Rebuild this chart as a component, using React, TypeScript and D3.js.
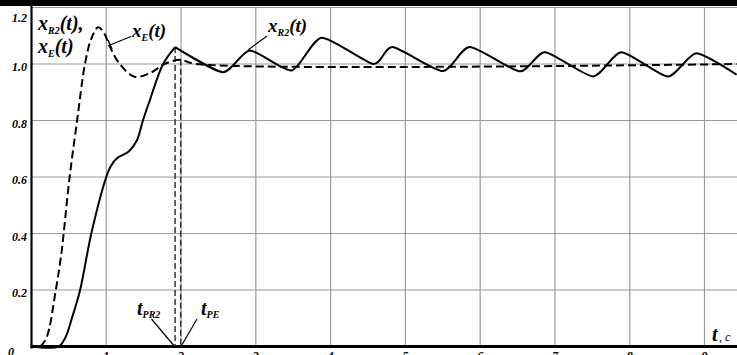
import React from "react";
import * as d3 from "d3";

const W = 737;
const H = 355;

const xTicks = [0, 1, 2, 3, 4, 5, 6, 7, 8, 9];
const yTicks = [0, 0.2, 0.4, 0.6, 0.8, 1.0, 1.2];
const yTickLabels = ["0", "0.2", "0.4", "0.6", "0.8", "1.0", "1.2"];

// x_R2(t) — solid: rising part
const riseT = [0, 0.36, 0.45, 0.54, 0.65, 0.8, 1.0, 1.06, 1.15, 1.3, 1.41, 1.49, 1.58, 1.76, 1.92];
const riseV = [0, 0, 0.03, 0.1, 0.2, 0.4, 0.6, 0.638, 0.668, 0.69, 0.73, 0.8, 0.87, 1.0, 1.06];
// x_R2(t) — solid: oscillation extremes (starting at first peak)
const oscT = [1.92, 2.56, 2.92, 3.48, 3.88, 4.57, 4.83, 5.5, 5.86, 6.53, 6.87, 7.51, 7.89, 8.51, 8.89, 9.43];
const oscV = [1.06, 0.971, 1.048, 0.977, 1.093, 1.0, 1.06, 0.975, 1.06, 0.974, 1.042, 0.956, 1.042, 0.956, 1.038, 0.962];

// x_E(t) — dashed
const dashT = [0.12, 0.2, 0.325, 0.4, 0.43, 0.51, 0.61, 0.715, 0.8, 0.89, 0.97, 1.05, 1.18, 1.38, 1.6, 1.78, 1.985, 2.2, 9.43];
const dashV = [0, 0.03, 0.2, 0.33, 0.4, 0.6, 0.8, 1.0, 1.09, 1.13, 1.11, 1.06, 1.0, 0.955, 0.97, 1.0, 1.015, 1.0, 1.0];

const tPR2 = 1.92;
const tPE = 1.995;

export default function App() {
  const x = d3.scaleLinear().domain([0, 9]).range([31.5, 704.5]);
  const y = d3.scaleLinear().domain([0, 1.2]).range([346.5, 7.5]);

  const rise = riseT.map((t, i) => [t, riseV[i]] as [number, number]);
  const osc = oscT.map((t, i) => [t, oscV[i]] as [number, number]);
  const dashed = dashT.map((t, i) => [t, dashV[i]] as [number, number]);

  const lineR = d3.line<[number, number]>().x(d => x(d[0])).y(d => y(d[1])).curve(d3.curveCatmullRom);
  const lineS = d3.line<[number, number]>().x(d => x(d[0])).y(d => y(d[1])).curve(d3.curveCardinal.tension(0.35));
  const lineD = d3.line<[number, number]>().x(d => x(d[0])).y(d => y(d[1])).curve(d3.curveCatmullRom);

  const font = "'Liberation Serif', 'Times New Roman', serif";
  const lab = { fontFamily: font, fontStyle: "italic", fontWeight: 700 } as React.CSSProperties;

  return (
    <svg width={W} height={H} style={{ position: "absolute", left: 0, top: 0, background: "#fff" }}>
      <rect x={0} y={0} width={W} height={H} fill="#fff" />
      {/* grid */}
      {xTicks.filter(t => t > 0).map(t => (
        <line key={"gx" + t} x1={x(t)} x2={x(t)} y1={y(1.2)} y2={y(0)} stroke="#9a9a9a" strokeWidth={1.2} />
      ))}
      {yTicks.filter(t => t > 0).map(t => (
        <line key={"gy" + t} x1={x(0)} x2={W} y1={y(t)} y2={y(t)} stroke="#9a9a9a" strokeWidth={1.2} />
      ))}
      {/* axes */}
      <line x1={x(0)} x2={x(0)} y1={0} y2={y(0) + 2} stroke="#000" strokeWidth={2.2} />
      <line x1={x(0) - 1} x2={W} y1={y(0)} y2={y(0)} stroke="#000" strokeWidth={3} />
      {/* top bar */}
      <rect x={0} y={0} width={W} height={6} fill="#000" />
      {/* y labels */}
      {yTicks.map((t, i) => (
        t === 0
          ? <text key={"yl" + t} x={11} y={356} textAnchor="middle" fontSize={12} style={lab}>{yTickLabels[i]}</text>
          : <text key={"yl" + t} x={27} y={t === 1.2 ? 22 : y(t) + 7} textAnchor="end" fontSize={12} style={lab}>{yTickLabels[i]}</text>
      ))}
      {/* x labels (cut off at bottom edge, as in the reference) */}
      {xTicks.filter(t => t > 0).map(t => (
        <text key={"xl" + t} x={x(t)} y={360} textAnchor="middle" fontSize={12} style={lab}>{String(t)}</text>
      ))}
      {/* vertical dashed markers */}
      <line x1={x(tPR2)} x2={x(tPR2)} y1={y(1.06)} y2={y(0)} stroke="#333" strokeWidth={1.5} strokeDasharray="6,3" />
      <line x1={x(tPE)} x2={x(tPE)} y1={y(1.015)} y2={y(0)} stroke="#333" strokeWidth={1.5} strokeDasharray="6,3" />
      {/* curves */}
      <path d={lineD(dashed) || ""} fill="none" stroke="#000" strokeWidth={2} strokeDasharray="8,4" />
      <path d={lineR(rise) || ""} fill="none" stroke="#000" strokeWidth={2} strokeLinejoin="round" />
      <path d={lineS(osc) || ""} fill="none" stroke="#000" strokeWidth={2} strokeLinejoin="round" />
      {/* top-left label */}
      <text x={38} y={30} fontSize={20} style={lab}>x<tspan fontSize={10} dy={4}>R2</tspan><tspan dy={-4}>(t),</tspan></text>
      <text x={38} y={53} fontSize={20} style={lab}>x<tspan fontSize={10} dy={4}>E</tspan><tspan dy={-4}>(t)</tspan></text>
      {/* x_E annotation */}
      <line x1={110} y1={45} x2={131} y2={36.5} stroke="#000" strokeWidth={1.2} />
      <line x1={108} y1={40} x2={112} y2={49} stroke="#000" strokeWidth={1.5} />
      <text x={132} y={37} fontSize={19} style={lab}>x<tspan fontSize={10} dy={4}>E</tspan><tspan dy={-4}>(t)</tspan></text>
      {/* x_R2 annotation */}
      <line x1={248} y1={50} x2={267} y2={36} stroke="#000" strokeWidth={1.2} />
      <text x={268} y={32} fontSize={19} style={lab}>x<tspan fontSize={10} dy={4}>R2</tspan><tspan dy={-4}>(t)</tspan></text>
      {/* t_PR2 / t_PE */}
      <text x={137} y={315} fontSize={20} style={lab}>t<tspan fontSize={10} dy={3}>PR2</tspan></text>
      <line x1={151.5} y1={319} x2={x(tPR2)} y2={347} stroke="#000" strokeWidth={1.2} />
      <text x={201} y={315} fontSize={20} style={lab}>t<tspan fontSize={10} dy={3}>PE</tspan></text>
      <line x1={197} y1={319} x2={x(tPE)} y2={347} stroke="#000" strokeWidth={1.2} />
      {/* t, c */}
      <text x={712} y={341} fontSize={20} style={lab}>t</text>
      <text x={719} y={341} fontSize={12} style={{ fontFamily: font, fontStyle: "italic" }}>, c</text>
    </svg>
  );
}
